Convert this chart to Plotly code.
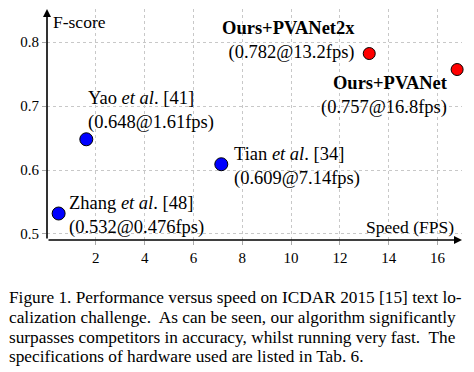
import plotly.graph_objects as go

# ---- data ----
names_ours = ["Ours+PVANet2x", "Ours+PVANet"]
fps_ours = [13.2, 16.8]
score_ours = [0.782, 0.757]

names_other = ["Zhang <i>et al</i>. [48]", "Yao <i>et al</i>. [41]", "Tian <i>et al</i>. [34]"]
fps_other = [0.476, 1.61, 7.14]
score_other = [0.532, 0.648, 0.609]

xticks = [2, 4, 6, 8, 10, 12, 14, 16]
yticks = [0.5, 0.6, 0.7, 0.8]

caption_lines = [
    "Figure 1. Performance versus speed on ICDAR 2015 [15] text lo-",
    "calization challenge.  As can be seen, our algorithm significantly",
    "surpasses competitors in accuracy, whilst running very fast.  The",
    "specifications of hardware used are listed in Tab. 6.",
]

FONT = "Liberation Serif"
XR = [0, 17.0]
YR = [0.4906, 0.8516]

fig = go.Figure()
fig.add_trace(go.Scatter(
    x=fps_other, y=score_other, mode="markers",
    marker=dict(size=13, color="#0000ff", line=dict(color="black", width=1)),
    hoverinfo="skip", cliponaxis=False))
fig.add_trace(go.Scatter(
    x=fps_ours, y=score_ours, mode="markers",
    marker=dict(size=12, color="#ff0000", line=dict(color="black", width=1)),
    hoverinfo="skip", cliponaxis=False))

ann = []
# axis arrows
ann.append(dict(x=XR[1], y=YR[0], ax=XR[0], ay=YR[0], xref="x", yref="y", axref="x", ayref="y",
                text="", showarrow=True, arrowhead=2, arrowsize=1, arrowwidth=1.6, arrowcolor="black"))
ann.append(dict(x=XR[0], y=YR[1], ax=XR[0], ay=YR[0], xref="x", yref="y", axref="x", ayref="y",
                text="", showarrow=True, arrowhead=2, arrowsize=1, arrowwidth=1.6, arrowcolor="black"))

# axis titles
ann.append(dict(x=0, y=1, xref="paper", yref="paper", xanchor="left", yanchor="middle",
                xshift=5, yshift=-13, text="F-score", showarrow=False, borderpad=0,
                font=dict(family=FONT, size=17.5, color="black")))
ann.append(dict(x=1, y=0, xref="paper", yref="paper", xanchor="right", yanchor="middle",
                xshift=-7, yshift=13, text="Speed (FPS)", showarrow=False, borderpad=0,
                font=dict(family=FONT, size=17.5, color="black")))

lab_font = dict(family=FONT, size=18.5, color="black")
# other methods labels
other_offsets = [(9, -1.5), (1, 29), (12, -2.5)]
for n, fx, sy, (dx, dy) in zip(names_other, fps_other, score_other, other_offsets):
    ann.append(dict(x=fx, y=sy, xref="x", yref="y", xanchor="left", yanchor="middle", align="left",
                    xshift=dx, yshift=dy, showarrow=False, borderpad=0, font=lab_font,
                    text=f"{n}<br>({sy:.3f}@{fx:g}fps)"))
# ours labels
ours_offsets = [(-13, 13.5), (-8, -25.5)]
for n, fx, sy, (dx, dy) in zip(names_ours, fps_ours, score_ours, ours_offsets):
    ann.append(dict(x=fx, y=sy, xref="x", yref="y", xanchor="right", yanchor="middle", align="right",
                    xshift=dx, yshift=dy, showarrow=False, borderpad=0, font=lab_font,
                    text=f"<b>{n}</b><br>({sy:.3f}@{fx:g}fps)"))

# caption
cap_centers = [297, 317, 337, 356]
for line, py in zip(caption_lines, cap_centers):
    ann.append(dict(x=0, y=0, xref="paper", yref="paper", xanchor="left", yanchor="middle",
                    xshift=8 - 47, yshift=240 - py, showarrow=False, borderpad=0,
                    text=line.replace("  ", "&nbsp; "),
                    font=dict(family=FONT, size=17.3, color="black")))

fig.update_layout(
    width=474, height=372,
    margin=dict(l=47, r=12, t=9, b=132, autoexpand=False),
    paper_bgcolor="white", plot_bgcolor="white",
    showlegend=False,
    annotations=ann,
    xaxis=dict(range=XR, tickvals=xticks, ticktext=[str(t) for t in xticks],
               showgrid=True, gridcolor="#c8c8c8", griddash="dot", gridwidth=1,
               zeroline=False, showline=False, ticks="outside", ticklen=4, tickcolor="#aaaaaa",
               automargin=False,
               tickfont=dict(family=FONT, size=15, color="black"), fixedrange=True),
    yaxis=dict(range=YR, tickvals=yticks, ticktext=[f"{t:.1f}" for t in yticks],
               showgrid=True, gridcolor="#c8c8c8", griddash="dot", gridwidth=1,
               zeroline=False, showline=False, ticks="outside", ticklen=4, tickcolor="#aaaaaa",
               automargin=False,
               tickfont=dict(family=FONT, size=15, color="black"), fixedrange=True),
)

fig.write_html("out.html", config={"displayModeBar": False},
               post_script="document.body.style.margin='0';document.body.style.padding='0';")
